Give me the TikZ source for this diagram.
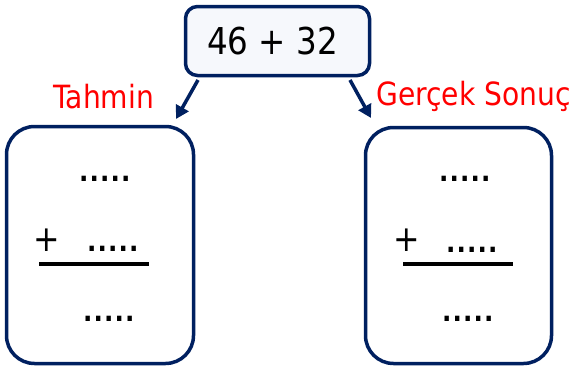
\documentclass[tikz,border=0pt]{standalone}
\usepackage{fontspec}
\setmainfont[FakeStretch=0.88]{DejaVu Sans}
\newfontfamily\dotfont[FakeStretch=0.88, LetterSpace=4]{DejaVu Sans}
\usetikzlibrary{arrows.meta}
\definecolor{navy}{RGB}{0,32,96}
\definecolor{paleblue}{RGB}{246,248,252}

\begin{document}
\begin{tikzpicture}[x=1pt, y=-1pt,
      box/.style = {draw=navy, line width=3.5pt, rounded corners=28pt,
                    minimum width=187pt, minimum height=237pt},
      lbl/.style = {text=red, inner sep=0pt, anchor=base west,
                    font=\fontsize{32}{34}\selectfont},
      dots/.style = {inner sep=0pt, anchor=base west,
                     font=\dotfont\bfseries\fontsize{28}{32}\selectfont},
      plus/.style = {inner sep=0pt, font=\fontsize{36}{38}\selectfont},
      arr/.style = {navy, line width=3.5pt, -{Triangle[length=13pt,width=14pt]}} ]
\useasboundingbox (0,0) rectangle (572,367);

   \node (sum) [draw=navy, fill=paleblue, line width=3.5pt, rounded corners=12pt,
                minimum width=184pt, minimum height=69pt,
                font=\fontsize{37}{40}\selectfont] at (277.5,41) {46 + 32\kern10pt};

   \node (guess) [box] at (100,245) {};
   \node (exact) [box, minimum width=186pt, minimum height=236pt] at (458.5,245.5) {};

   \node (tahmin) [lbl] at (53,108) {Tahmin};
   \node (gercek) [lbl] at (376,105) {Gerçek Sonuç};

   \coordinate (fromL) at (198,80);
   \coordinate (toL)   at (176,119);
   \coordinate (fromR) at (350,80);
   \coordinate (toR)   at (371,118);
   \draw[arr] (fromL) -- (toL);
   \draw[arr] (fromR) -- (toR);

   % left column sum
   \node (gtop)  [dots] at (79,181) {.....};
   \node (gplus) [plus] at (47,240) {+};
   \node (gmid)  [dots] at (87,251) {.....};
   \node (gbot)  [dots] at (83,321) {.....};
   \draw[line width=3.5pt] (39,264) coordinate (gl) -- (149,264) coordinate (gr);

   % right column sum
   \node (etop)  [dots] at (439,181) {.....};
   \node (eplus) [plus] at (407,240) {+};
   \node (emid)  [dots] at (446,252) {.....};
   \node (ebot)  [dots] at (442,321) {.....};
   \draw[line width=3.5pt] (403,264) coordinate (el) -- (513,264) coordinate (er);
\end{tikzpicture}
\end{document}
